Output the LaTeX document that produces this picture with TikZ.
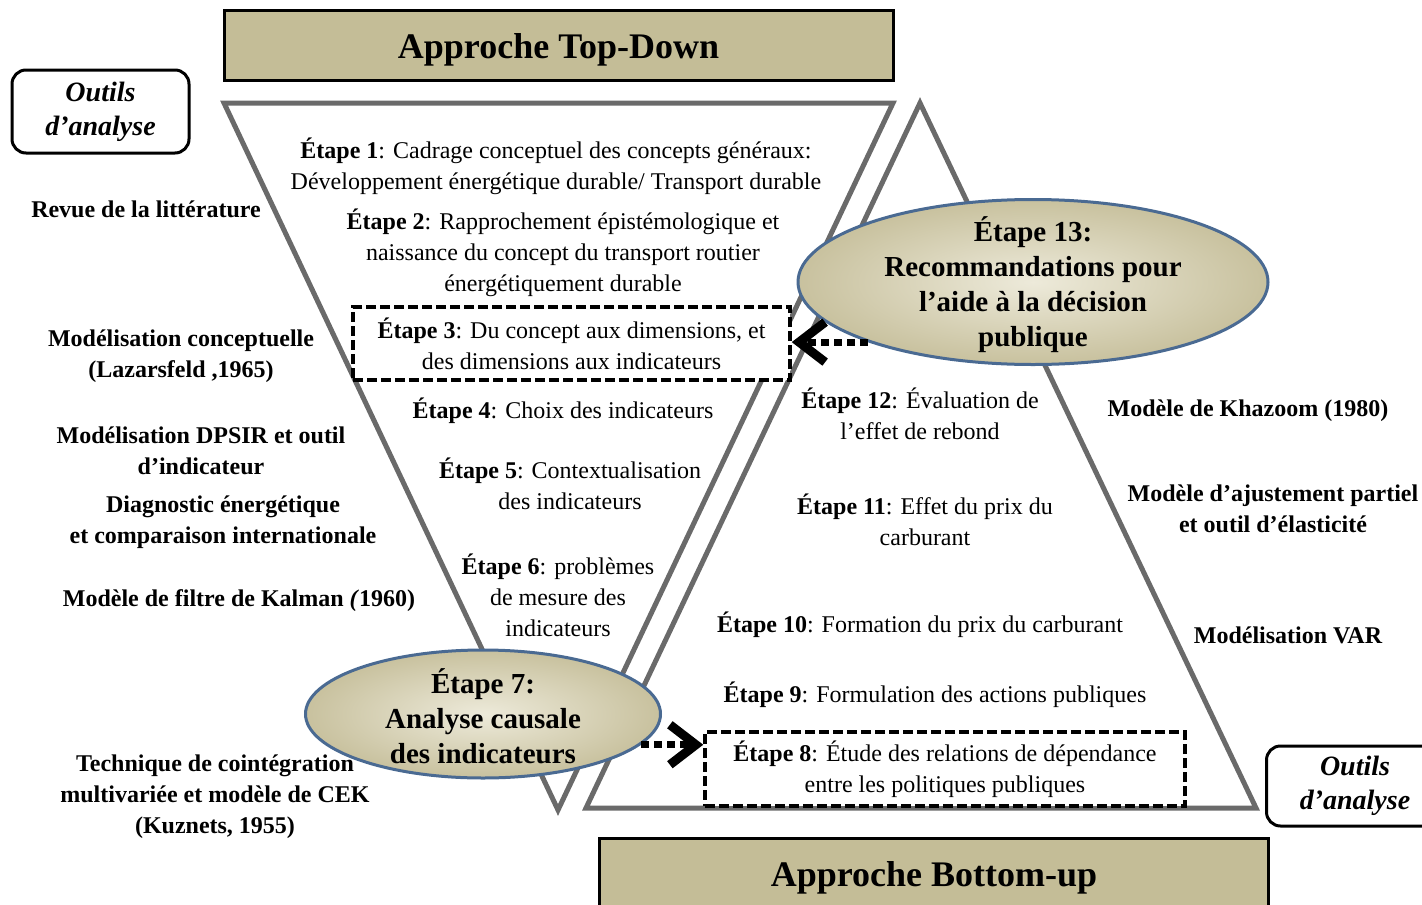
\documentclass[tikz,border=0pt]{standalone}
\usepackage{fontspec}
\setmainfont{Liberation Serif}
\usepackage{tikz}
\usetikzlibrary{
	shapes.geometric,
	arrows.meta
}
\definecolor{tanfill}{HTML}{C4BD97}
\definecolor{tanlight}{HTML}{EDEADA}
\definecolor{tandark}{HTML}{C8C19E}
\definecolor{ovalline}{HTML}{4A6A92}
\definecolor{triline}{HTML}{6A6A6A}
\tikzset{
	x=1pt,
	y=-1pt,
	triangle/.style={
		draw=triline,
		line width=5pt
	},
	titlebox/.style={
		draw=black,
		line width=3pt,
		fill=tanfill,
		minimum width=669pt,
		minimum height=70pt,
		inner sep=0pt,
		text height=26pt,
		text depth=0pt,
		font=\bfseries\fontsize{36}{40}\selectfont
	},
	toolhead/.style={
		draw=black,
		line width=3pt,
		rounded corners=14pt,
		minimum width=177pt,
		minimum height=83pt,
		inner sep=0pt,
		align=center,
		font=\bfseries\itshape\fontsize{28}{34}\selectfont
	},
	steptext/.style={
		align=center,
		inner sep=0pt,
		font=\fontsize{24}{31}\selectfont
	},
	tooltext/.style={
		steptext,
		font=\bfseries\fontsize{24}{31}\selectfont
	},
	stepbox/.style={
		steptext,
		draw=black,
		fill=white,
		line width=3.5pt,
		dash pattern=on 10pt off 4pt
	},
	stepoval/.style={
		ellipse,
		draw=ovalline,
		line width=3pt,
		inner color=tanlight,
		outer color=tandark,
		inner sep=0pt
	},
	ovaltext/.style={
		align=center,
		inner sep=0pt,
		font=\bfseries\fontsize{29}{35}\selectfont
	},
	dotarrow/.style={
		line width=7pt,
		dash pattern=on 8pt off 5pt,
		-{Straight Barb[length=26pt,width=40pt,line width=9pt]}
	}
}

\begin{document}
\begin{tikzpicture}
	\useasboundingbox (0,0) rectangle (1422,905);

	% the two approaches
	\draw[triangle] (224,103) -- (893,103) -- (558,810) -- cycle;
	\draw[triangle] (920,103) -- (1256,808) -- (586,808) -- cycle;

	\node[titlebox] (topdown)  at (558.5,45) {Approche Top-Down};
	\node[titlebox] (bottomup) at (934,873)  {Approche Bottom-up};
	\node[toolhead] (toolsL)   at (100.5,111.5) {Outils\\d'analyse};
	\node[toolhead,minimum height=80pt] (toolsR) at (1355,786) {Outils\\d'analyse};

	% top-down steps
	\node[steptext] (s1) at (556,166) {\textbf{Étape 1}: Cadrage conceptuel des concepts généraux:\\Développement énergétique durable/ Transport durable};
	\node[steptext] (s2) at (563,253) {\textbf{Étape 2}: Rapprochement épistémologique et\\naissance du concept du transport routier\\énergétiquement durable};
	\node[stepbox,minimum width=437pt,minimum height=73pt] (s3) at (571.5,343.5) {\textbf{Étape 3}: Du concept aux dimensions, et\\des dimensions aux indicateurs};
	\node[steptext] (s4) at (563,411) {\textbf{Étape 4}: Choix des indicateurs};
	\node[steptext] (s5) at (570,484) {\textbf{Étape 5}: Contextualisation\\des indicateurs};
	\node[steptext] (s6) at (558,595) {\textbf{Étape 6}: problèmes\\de mesure des\\indicateurs};

	% bottom-up steps
	\node[stepbox,minimum width=480pt,minimum height=74pt] (s8) at (945,769) {\textbf{Étape 8}: Étude des relations de dépendance\\entre les politiques publiques};
	\node[steptext] (s9)  at (935,695) {\textbf{Étape 9}: Formulation des actions publiques};
	\node[steptext] (s10) at (920,625) {\textbf{Étape 10}: Formation du prix du carburant};
	\node[steptext] (s11) at (925,520) {\textbf{Étape 11}: Effet du prix du\\carburant};
	\node[steptext] (s12) at (920,414) {\textbf{Étape 12}: Évaluation de\\l'effet de rebond};

	% tools
	\node[tooltext] (revue)    at (146,209) {Revue de la littérature};
	\node[tooltext] (lazarsf)  at (181,356) {Modélisation conceptuelle\\(Lazarsfeld ,1965)};
	\node[tooltext] (dpsir)    at (201,451) {Modélisation DPSIR et outil\\d'indicateur};
	\node[tooltext] (diagn)    at (223,522) {Diagnostic énergétique\\et comparaison internationale};
	\node[tooltext] (kalman)   at (239,601) {Modèle de filtre de Kalman \textit{(}1960)};
	\node[tooltext] (kuznets)  at (215,797) {Technique de cointégration\\multivariée et modèle de CEK\\(Kuznets, 1955)};
	\node[tooltext] (khazoom)  at (1248,411) {Modèle de Khazoom (1980)};
	\node[tooltext] (ajust)    at (1273,509) {Modèle d'ajustement partiel\\et outil d'élasticité};
	\node[tooltext] (var)      at (1288,635) {Modélisation VAR};

	% ovals
	\node[stepoval,minimum width=470pt,minimum height=165pt] (e13) at (1033,282) {};
	\node[ovaltext] (e13txt) at (1033,285) {Étape 13:\\Recommandations pour\\l'aide à la décision\\publique};
	\node[stepoval,minimum width=355pt,minimum height=128pt] (e7) at (483,714) {};
	\node[ovaltext] (e7txt) at (483,716) {Étape 7:\\Analyse causale\\des indicateurs};

	\draw[dotarrow] (e13.200) -- (e13.200 -| s3.east);
	\draw[dotarrow] (e7.-11) -- (e7.-11 -| s8.west);
\end{tikzpicture}
\end{document}
